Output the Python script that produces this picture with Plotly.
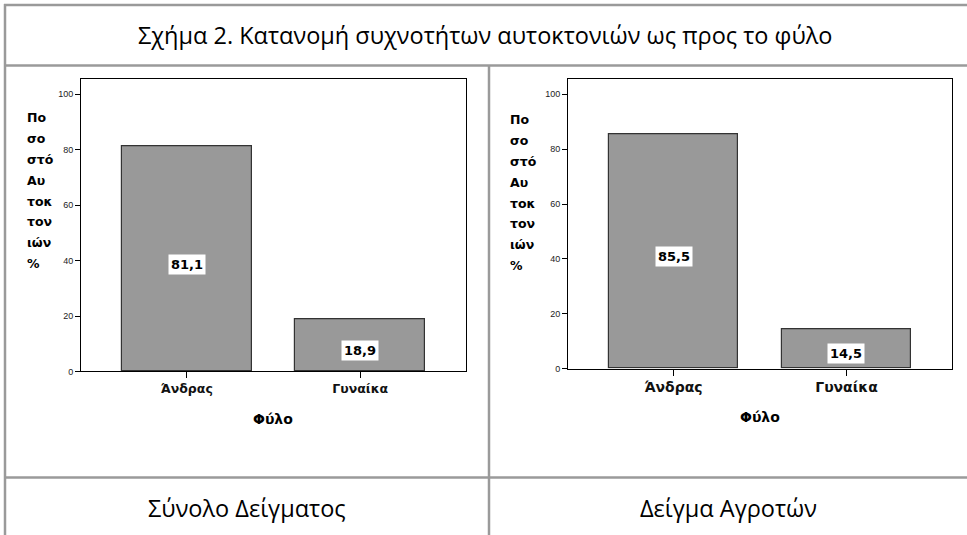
import plotly.graph_objects as go

categories = ["Άνδρας", "Γυναίκα"]
total_values = [81.1, 18.9]
farmer_values = [85.5, 14.5]
value_labels_total = ["81,1", "18,9"]
value_labels_farmer = ["85,5", "14,5"]
y_ticks = [0, 20, 40, 60, 80, 100]
y_title_lines = ["Πο", "σο", "στό", "Αυ", "τοκ", "τον", "ιών", "%"]
main_title = "Σχήμα 2. Κατανομή συχνοτήτων αυτοκτονιών ως προς το φύλο"
panel_titles = ["Σύνολο Δείγματος", "Δείγμα Αγροτών"]
x_title = "Φύλο"

W, H = 967, 535
def px(x):
    return x / W
def py(y):
    return 1 - y / H

BAR = "#999999"
fig = go.Figure()

fig.add_trace(go.Bar(x=categories, y=total_values, xaxis="x", yaxis="y",
                     marker=dict(color=BAR, line=dict(color="#333333", width=1.2)),
                     width=0.75, hoverinfo="skip"))
fig.add_trace(go.Bar(x=categories, y=farmer_values, xaxis="x2", yaxis="y2",
                     marker=dict(color=BAR, line=dict(color="#333333", width=1.2)),
                     width=0.75, hoverinfo="skip"))

ax_common = dict(showline=True, linecolor="black", linewidth=1, mirror=True,
                 showgrid=False, zeroline=False, fixedrange=True)

fig.update_layout(
    width=W, height=H, margin=dict(l=0, r=0, t=0, b=0),
    paper_bgcolor="white", plot_bgcolor="white", showlegend=False, bargap=0,
    xaxis=dict(domain=[px(81), px(466)], anchor="y", range=[-0.61, 1.61],
               ticks="outside", ticklen=6, tickcolor="black",
               tickfont=dict(family="DejaVu Sans", size=12.5, color="#111", weight="bold"),
               **ax_common),
    yaxis=dict(domain=[py(375), py(80)], anchor="x", range=[0, 105.4],
               tickvals=y_ticks, ticks="outside", ticklen=5, tickcolor="black",
               tickfont=dict(family="Liberation Sans", size=9, color="#222"),
               **ax_common),
    xaxis2=dict(domain=[px(568), px(952)], anchor="y2", range=[-0.61, 1.61],
                ticks="outside", ticklen=6, tickcolor="black",
                tickfont=dict(family="DejaVu Sans", size=14, color="#111", weight="bold"),
                **ax_common),
    yaxis2=dict(domain=[py(372), py(80)], anchor="x2", range=[0, 105.5],
                tickvals=y_ticks, ticks="outside", ticklen=5, tickcolor="black",
                tickfont=dict(family="Liberation Sans", size=9, color="#222"),
                **ax_common),
)

annotations = []
for xa, ya, vals, labs in [("x", "y", total_values, value_labels_total),
                           ("x2", "y2", farmer_values, value_labels_farmer)]:
    for c, v, l in zip(categories, vals, labs):
        annotations.append(dict(x=c, y=v / 2, xref=xa, yref=ya, text="<b>" + l + "</b>",
                                showarrow=False, bgcolor="white", borderpad=2, yshift=-5,
                                font=dict(family="DejaVu Sans", size=13, color="black")))
for x0, y0 in [(25, 119), (508, 121)]:
    for i, t in enumerate(y_title_lines):
        annotations.append(dict(x=px(x0), y=py(y0 + 21 * i), xref="paper", yref="paper",
                                text="<b>" + t + "</b>", showarrow=False,
                                xanchor="left", yanchor="middle",
                                font=dict(family="DejaVu Sans", size=12.5, color="black")))
for xc, yc in [(273, 423), (760, 421)]:
    annotations.append(dict(x=px(xc), y=py(yc), xref="paper", yref="paper",
                            text="<b>" + x_title + "</b>", showarrow=False,
                            xanchor="center", yanchor="middle",
                            font=dict(family="DejaVu Sans", size=14, color="black")))
annotations.append(dict(x=px(485), y=py(35), xref="paper", yref="paper", text=main_title,
                        showarrow=False, xanchor="center", yanchor="middle",
                        font=dict(family="Open Sans", size=23.5, color="black")))
for xc, t in [(247, panel_titles[0]), (728, panel_titles[1])]:
    annotations.append(dict(x=px(xc), y=py(513), xref="paper", yref="paper", text=t,
                            showarrow=False, xanchor="center", yanchor="middle",
                            font=dict(family="Open Sans", size=23.5, color="black")))
fig.update_layout(annotations=annotations)

LC = "#9a9a9a"
shapes = []
def hline(y, x0, x1):
    shapes.append(dict(type="line", xref="paper", yref="paper", x0=px(x0), x1=px(x1),
                       y0=py(y), y1=py(y), line=dict(color=LC, width=2.5)))
def vline(x, y0, y1):
    shapes.append(dict(type="line", xref="paper", yref="paper", x0=px(x), x1=px(x),
                       y0=py(y0), y1=py(y1), line=dict(color=LC, width=2.5)))
hline(5, 4, 975)
hline(66, 4, 975)
hline(482, 4, 975)
vline(5, 4, 540)
vline(489, 66, 540)
fig.update_layout(shapes=shapes)

fig.write_html("out.html", config={"displayModeBar": False},
               post_script="document.body.style.margin='0';document.body.style.padding='0';document.body.style.overflow='hidden';")
